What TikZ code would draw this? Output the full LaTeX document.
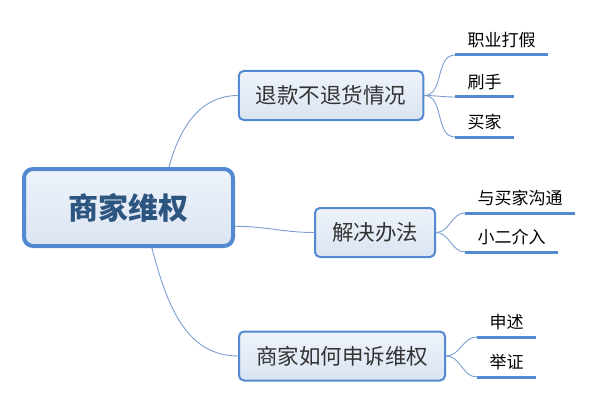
\documentclass[tikz,border=0pt]{standalone}
\usepackage{fontspec}
\setmainfont{Noto Sans CJK SC}
\usetikzlibrary{backgrounds}

\definecolor{mapblue}{HTML}{5289D0}
\definecolor{linkblue}{HTML}{7B9ED0}
\definecolor{boxtop}{HTML}{EEF3FA}
\definecolor{boxbot}{HTML}{DAE4F2}
\definecolor{hubtext}{HTML}{2C557F}
\definecolor{inktext}{HTML}{333333}

\tikzset{
  hubbox/.style={draw=mapblue, line width=4pt, rounded corners=9pt,
    top color=boxtop, bottom color=boxbot, minimum width=209pt,
    minimum height=77pt, text=hubtext,
    font=\fontsize{30}{30}\selectfont\bfseries},
  topicbox/.style={draw=mapblue, line width=2pt, rounded corners=5pt,
    top color=boxtop, bottom color=boxbot, minimum height=49pt,
    inner xsep=17pt, text=inktext, font=\fontsize{21.5}{21.5}\selectfont},
  leaf/.style={anchor=south west, inner xsep=12.5pt, inner ysep=5pt,
    text height=12pt, text depth=3pt, text=black,
    font=\fontsize{17}{17}\selectfont,
    append after command={(\tikzlastnode.south west)
      edge[draw=mapblue, line width=3pt] (\tikzlastnode.south east)}},
  link/.style={draw=linkblue, line width=0.9pt},
}

\begin{document}
\begin{tikzpicture}[x=1pt,y=-1pt]
  \useasboundingbox (0,0) rectangle (600,404);

  % centre and main topics
  \node[hubbox] (hub) at (128.5,207.5) {商家维权};
  \node[topicbox] (refund) at (331,95.5) {退款不退货情况};
  \node[topicbox] (solve) at (375,232.5) {解决办法};
  \node[topicbox] (appeal) at (342,356) {商家如何申诉维权};

  % leaves
  \node[leaf] (pro) at (455,55) {职业打假};
  \node[leaf] (fake) at (455,97) {刷手};
  \node[leaf] (buyer) at (455,137) {买家};
  \node[leaf] (talk) at (465,213) {与买家沟通};
  \node[leaf] (staff) at (465,252) {小二介入};
  \node[leaf] (state) at (477,337) {申述};
  \node[leaf] (proof) at (477,377) {举证};

  \begin{scope}[on background layer]
    \draw[link] (hub.45) to[out=75,in=180] (refund.west);
    \draw[link] (hub.-10) to[out=0,in=180] (solve.west);
    \draw[link] (hub.-60) to[out=-75,in=180] (appeal.west);
  \end{scope}

  \foreach \leafname in {pro,fake,buyer}
    \draw[link] (refund.east) to[out=0,in=180] (\leafname.south west);
  \foreach \leafname in {talk,staff}
    \draw[link] (solve.east) to[out=0,in=180] (\leafname.south west);
  \foreach \leafname in {state,proof}
    \draw[link] (appeal.east) to[out=0,in=180] (\leafname.south west);
\end{tikzpicture}
\end{document}
